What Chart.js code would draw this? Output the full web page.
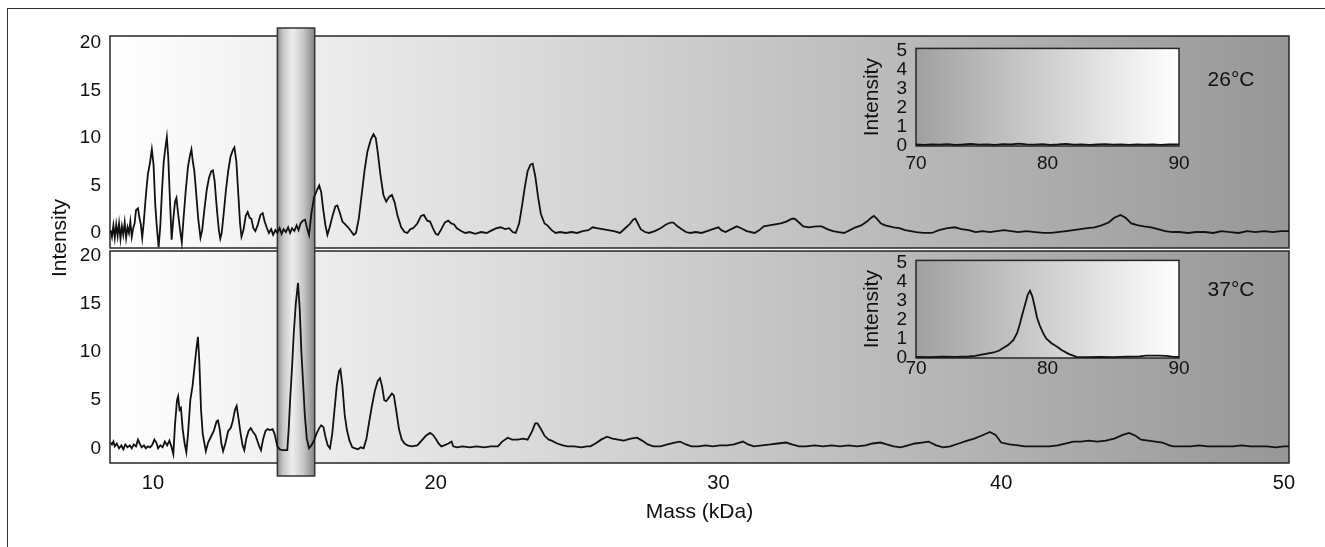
<!DOCTYPE html>
<html>
<head>
<meta charset="utf-8">
<script src="https://cdn.jsdelivr.net/npm/chart.js@4.4.1/dist/chart.umd.min.js"></script>
<style>
  html, body { margin: 0; padding: 0; background: #fff; }
  #wrap { position: relative; width: 1325px; height: 547px; overflow: hidden; }
  #wrap canvas { position: absolute; }
</style>
</head>
<body>
<div id="wrap">
  <canvas id="mainChart" width="1325" height="547" style="left:0;top:0"></canvas>
  <canvas id="inset26" width="350" height="152" style="left:840px;top:28px"></canvas>
  <canvas id="inset37" width="350" height="152" style="left:840px;top:240px"></canvas>
</div>
<script>
// ---- data: [mass kDa, intensity] ----
const trace26 = [
  [8.50,0.3],[8.55,-0.4],[8.60,0.8],[8.65,-0.5],[8.70,0.9],[8.75,-0.3],[8.80,1.0],[8.85,-0.6],[8.90,0.7],[8.95,-0.2],
  [9.00,1.1],[9.05,-0.5],[9.10,0.6],[9.15,0.0],[9.20,1.2],[9.25,-0.4],[9.30,0.5],[9.35,1.0],[9.40,2.4],[9.47,2.6],
  [9.52,1.6],[9.57,0.9],[9.62,-0.5],[9.67,1.0],[9.75,4.0],[9.82,6.2],[9.90,7.5],[9.96,8.8],[10.02,7.2],[10.08,3.0],
  [10.14,0.5],[10.20,-1.5],[10.26,0.8],[10.32,4.5],[10.38,7.5],[10.44,9.0],[10.49,10.1],[10.54,8.0],[10.60,3.5],[10.66,-0.7],
  [10.72,1.5],[10.78,3.3],[10.83,3.7],[10.89,2.0],[10.96,0.3],[11.02,-1.0],[11.08,1.5],[11.16,4.5],[11.24,7.0],[11.31,8.2],
  [11.36,8.8],[11.41,7.5],[11.46,6.6],[11.52,4.5],[11.60,1.5],[11.68,-0.5],[11.74,0.3],[11.82,2.5],[11.90,4.5],[11.98,5.8],
  [12.06,6.5],[12.12,6.6],[12.18,5.5],[12.26,2.5],[12.33,0.3],[12.38,-0.6],[12.43,0.0],[12.50,2.0],[12.58,4.5],[12.66,6.5],
  [12.74,8.0],[12.82,8.7],[12.88,9.0],[12.95,7.5],[13.02,4.0],[13.08,1.0],[13.13,-0.4],[13.20,0.3],[13.28,1.8],[13.35,2.2],
  [13.42,1.6],[13.48,1.5],[13.55,0.5],[13.62,0.2],[13.70,0.8],[13.80,1.9],[13.88,2.1],[13.95,1.2],[14.02,0.6],[14.10,0.0],
  [14.18,0.4],[14.25,-0.2],[14.33,0.3],[14.40,0.0],[14.48,0.5],[14.55,-0.1],[14.62,0.4],[14.70,0.1],[14.78,0.6],[14.85,0.0],
  [14.92,0.5],[15.00,0.2],[15.08,0.8],[15.15,0.3],[15.22,1.0],[15.30,1.3],[15.38,1.4],[15.45,0.5],[15.52,-0.2],[15.60,2.0],
  [15.70,3.8],[15.80,4.5],[15.88,5.0],[15.95,4.3],[16.02,2.5],[16.10,0.8],[16.17,-0.2],[16.25,0.6],[16.35,1.8],[16.45,2.8],
  [16.52,2.9],[16.60,2.2],[16.70,1.2],[16.80,0.9],[16.90,0.6],[17.00,0.2],[17.10,-0.2],[17.18,0.0],[17.28,1.5],[17.38,4.0],
  [17.48,6.5],[17.58,8.5],[17.70,9.8],[17.80,10.4],[17.88,10.0],[17.95,8.5],[18.05,6.0],[18.15,4.0],[18.25,3.3],[18.35,3.8],
  [18.45,4.0],[18.55,3.2],[18.65,1.8],[18.78,0.6],[18.90,0.1],[19.00,0.0],[19.10,0.4],[19.20,0.5],[19.35,1.0],[19.48,1.8],
  [19.58,1.9],[19.70,1.3],[19.80,1.2],[19.90,0.5],[20.00,-0.1],[20.08,-0.2],[20.20,0.4],[20.32,1.1],[20.44,1.3],[20.55,1.0],
  [20.65,0.9],[20.75,0.5],[20.90,0.2],[21.05,0.0],[21.20,0.1],[21.40,-0.1],[21.60,0.1],[21.80,0.0],[22.00,0.3],[22.15,0.5],
  [22.30,0.6],[22.45,0.4],[22.60,0.5],[22.72,0.1],[22.83,0.0],[22.95,1.0],[23.05,2.8],[23.15,4.8],[23.25,6.5],[23.35,7.2],
  [23.43,7.3],[23.52,6.0],[23.62,3.8],[23.72,2.0],[23.85,1.0],[23.95,0.8],[24.10,0.3],[24.24,0.0],[24.40,0.1],[24.60,0.0],
  [24.80,0.1],[25.00,0.0],[25.20,0.2],[25.40,0.3],[25.55,0.6],[25.70,0.5],[25.90,0.4],[26.10,0.3],[26.30,0.2],[26.52,0.0],
  [26.70,0.5],[26.85,0.9],[26.98,1.4],[27.06,1.5],[27.15,1.0],[27.25,0.4],[27.40,0.1],[27.55,0.0],[27.75,0.2],[27.95,0.5],
  [28.15,0.9],[28.30,1.1],[28.41,1.1],[28.55,0.7],[28.70,0.4],[28.85,0.1],[29.00,0.0],[29.20,0.1],[29.40,0.0],[29.60,0.2],
  [29.80,0.4],[30.00,0.6],[30.10,0.3],[30.25,0.1],[30.45,0.4],[30.65,0.7],[30.80,0.5],[31.00,0.2],[31.28,0.0],[31.45,0.3],
  [31.60,0.7],[31.80,0.8],[32.00,0.9],[32.20,1.0],[32.40,1.2],[32.60,1.5],[32.70,1.5],[32.85,1.1],[33.00,0.7],[33.20,0.6],
  [33.45,0.7],[33.65,0.7],[33.85,0.4],[34.05,0.2],[34.25,0.1],[34.44,0.0],[34.65,0.3],[34.85,0.6],[35.05,0.8],[35.25,1.2],
  [35.40,1.6],[35.50,1.8],[35.60,1.5],[35.75,1.0],[35.90,0.8],[36.05,0.7],[36.20,0.6],[36.40,0.5],[36.60,0.3],[36.80,0.2],
  [37.00,0.1],[37.25,0.0],[37.55,0.0],[37.80,0.3],[38.10,0.5],[38.36,0.6],[38.60,0.4],[38.85,0.3],[39.10,0.1],[39.35,0.2],
  [39.60,0.1],[39.85,0.2],[40.10,0.3],[40.35,0.2],[40.60,0.1],[40.90,0.2],[41.20,0.1],[41.50,0.0],[41.76,0.0],[42.00,0.1],
  [42.30,0.2],[42.55,0.3],[42.80,0.4],[43.05,0.5],[43.30,0.6],[43.55,0.8],[43.80,1.1],[44.00,1.6],[44.22,1.9],[44.40,1.6],
  [44.60,1.0],[44.85,0.8],[45.05,0.7],[45.30,0.6],[45.55,0.4],[45.80,0.2],[46.05,0.1],[46.30,0.1],[46.60,0.0],[46.90,0.1],
  [47.20,0.1],[47.50,0.0],[47.80,0.2],[48.10,0.1],[48.40,0.0],[48.70,0.2],[49.00,0.1],[49.30,0.2],[49.60,0.1],[49.90,0.2],
  [50.20,0.2]
];

const trace37 = [
  [8.50,0.6],[8.55,0.4],[8.60,0.7],[8.65,0.2],[8.72,0.5],[8.80,0.0],[8.88,0.3],[8.95,-0.1],[9.02,0.4],[9.10,0.1],
  [9.18,0.3],[9.25,0.0],[9.32,0.4],[9.40,0.2],[9.47,0.9],[9.53,0.5],[9.60,0.1],[9.68,0.3],[9.75,0.0],[9.82,0.2],
  [9.90,0.1],[9.98,0.4],[10.05,0.9],[10.12,0.6],[10.18,0.0],[10.26,0.3],[10.34,0.1],[10.42,0.7],[10.50,0.3],[10.58,0.8],
  [10.65,0.2],[10.72,-0.6],[10.78,2.5],[10.85,5.0],[10.89,5.4],[10.94,4.0],[10.99,4.2],[11.05,2.0],[11.12,0.5],[11.18,-0.4],
  [11.24,1.5],[11.32,5.0],[11.40,6.5],[11.47,8.5],[11.53,10.2],[11.59,11.6],[11.64,9.0],[11.70,4.0],[11.76,1.5],[11.82,0.5],
  [11.87,-0.3],[11.95,0.6],[12.05,1.2],[12.15,1.8],[12.25,2.8],[12.30,2.9],[12.36,2.0],[12.42,0.5],[12.48,-0.3],[12.56,0.5],
  [12.66,1.8],[12.75,2.1],[12.82,2.8],[12.90,4.0],[12.96,4.4],[13.03,3.0],[13.10,1.5],[13.17,0.3],[13.23,-0.2],[13.30,1.0],
  [13.38,1.8],[13.46,2.1],[13.54,1.7],[13.62,1.4],[13.70,0.7],[13.76,0.2],[13.82,-0.2],[13.90,1.0],[13.98,1.8],[14.05,2.0],
  [14.14,1.9],[14.23,2.0],[14.30,1.5],[14.40,0.2],[14.48,-0.1],[14.58,-0.2],[14.68,-0.2],[14.75,-0.2],[14.80,2.0],[14.86,5.5],
  [14.92,8.5],[14.98,12.0],[15.05,15.0],[15.13,17.2],[15.19,14.5],[15.25,10.0],[15.31,6.8],[15.37,3.5],[15.44,1.0],[15.52,0.0],
  [15.60,0.3],[15.68,0.7],[15.78,1.5],[15.88,2.1],[15.95,2.4],[16.03,2.2],[16.10,1.2],[16.18,0.3],[16.26,0.0],[16.34,1.5],
  [16.42,4.0],[16.50,6.5],[16.58,8.0],[16.63,8.2],[16.70,6.5],[16.78,3.5],[16.86,1.9],[16.95,0.8],[17.05,0.1],[17.15,0.0],
  [17.25,-0.1],[17.35,0.1],[17.45,0.0],[17.55,1.0],[17.65,2.8],[17.75,4.5],[17.85,6.0],[17.95,7.0],[18.03,7.3],[18.10,6.5],
  [18.18,5.0],[18.25,4.9],[18.35,5.3],[18.45,5.7],[18.52,5.5],[18.60,4.0],[18.70,2.0],[18.80,0.9],[18.90,0.5],[19.00,0.3],
  [19.15,0.2],[19.35,0.3],[19.50,0.8],[19.65,1.3],[19.80,1.6],[19.90,1.4],[20.00,1.0],[20.10,0.5],[20.20,0.2],[20.30,0.3],
  [20.45,0.5],[20.56,0.7],[20.62,0.2],[20.75,0.1],[20.95,0.2],[21.20,0.1],[21.45,0.2],[21.70,0.1],[21.95,0.2],[22.20,0.2],
  [22.35,0.7],[22.55,1.1],[22.70,0.9],[22.90,0.9],[23.10,1.0],[23.25,0.9],[23.40,1.7],[23.52,2.6],[23.60,2.6],[23.72,2.0],
  [23.85,1.3],[24.00,0.9],[24.10,0.8],[24.30,0.5],[24.50,0.3],[24.66,0.2],[24.90,0.2],[25.15,0.1],[25.35,0.2],[25.47,0.2],
  [25.65,0.5],[25.85,0.9],[26.06,1.2],[26.25,1.0],[26.45,0.9],[26.65,0.8],[26.90,1.0],[27.12,1.1],[27.30,0.8],[27.50,0.4],
  [27.70,0.2],[27.95,0.2],[28.20,0.4],[28.45,0.6],[28.64,0.7],[28.85,0.4],[29.05,0.2],[29.30,0.2],[29.55,0.3],[29.80,0.2],
  [30.05,0.3],[30.30,0.3],[30.55,0.4],[30.87,0.7],[31.05,0.4],[31.25,0.2],[31.55,0.3],[31.85,0.4],[32.10,0.5],[32.39,0.6],
  [32.60,0.4],[32.85,0.2],[33.10,0.2],[33.40,0.3],[33.70,0.2],[34.00,0.3],[34.30,0.2],[34.60,0.3],[34.90,0.2],[35.20,0.3],
  [35.45,0.5],[35.73,0.6],[35.95,0.4],[36.20,0.2],[36.45,0.1],[36.70,0.3],[36.95,0.5],[37.20,0.6],[37.43,0.7],[37.70,0.3],
  [37.95,0.1],[38.20,0.2],[38.50,0.5],[38.80,0.8],[39.05,1.0],[39.30,1.3],[39.60,1.7],[39.80,1.4],[40.00,0.6],[40.30,0.4],
  [40.60,0.3],[40.83,0.2],[41.10,0.2],[41.40,0.2],[41.70,0.2],[42.00,0.3],[42.30,0.5],[42.55,0.7],[42.82,0.7],[43.10,0.8],
  [43.40,0.7],[43.70,0.8],[44.00,1.0],[44.30,1.4],[44.52,1.6],[44.75,1.3],[44.95,0.9],[45.20,0.8],[45.45,0.7],[45.70,0.6],
  [45.95,0.3],[46.10,0.2],[46.40,0.2],[46.70,0.2],[47.00,0.3],[47.30,0.2],[47.60,0.2],[47.90,0.2],[48.20,0.2],[48.50,0.3],
  [48.80,0.2],[49.10,0.2],[49.40,0.2],[49.70,0.1],[50.00,0.2],[50.20,0.2]
];

const insetTrace26 = [
  [70.0,0.05],[70.6,0.03],[71.2,0.06],[71.8,0.04],[72.4,0.07],[73.0,0.03],[73.6,0.05],[74.2,0.08],[74.8,0.04],[75.4,0.06],
  [76.0,0.03],[76.6,0.07],[77.2,0.05],[77.8,0.09],[78.4,0.06],[79.0,0.04],[79.6,0.07],[80.2,0.03],[80.8,0.05],[81.4,0.08],
  [82.0,0.04],[82.6,0.06],[83.2,0.03],[83.8,0.05],[84.4,0.07],[85.0,0.04],[85.6,0.06],[86.2,0.03],[86.8,0.05],[87.4,0.04],
  [88.0,0.06],[88.6,0.03],[89.2,0.05],[90.0,0.06]
];

const insetTrace37 = [
  [70.0,0.03],[71.0,0.02],[72.0,0.04],[73.0,0.03],[74.0,0.05],[74.5,0.08],[74.9,0.14],[75.4,0.20],[75.9,0.26],[76.3,0.35],
  [76.6,0.48],[77.0,0.65],[77.4,0.91],[77.7,1.30],[77.9,1.77],[78.1,2.30],[78.3,2.80],[78.5,3.30],[78.67,3.50],[78.85,3.20],
  [79.05,2.60],[79.2,2.10],[79.4,1.70],[79.65,1.30],[79.9,1.00],[80.3,0.75],[80.7,0.57],[81.1,0.38],[81.6,0.19],[82.2,0.03],
  [83.0,0.02],[84.0,0.03],[85.0,0.02],[86.0,0.04],[87.0,0.06],[87.5,0.09],[88.5,0.10],[89.0,0.08],[89.5,0.04],[90.0,0.03]
];

const xTicks = [10, 20, 30, 40, 50];
const yTicks = [0, 5, 10, 15, 20];
const insetXTicks = [70, 80, 90];
const insetYTicks = [0, 1, 2, 3, 4, 5];
const bandRange = [14.40, 15.72];
const temps = ['26°C', '37°C'];

const FONT = "'Liberation Sans', Arial, Helvetica, sans-serif";
const INK = '#111';

function toPoints(arr) {
  return arr.map(p => ({ x: p[0], y: p[1] }));
}

const backdrop = {
  id: 'backdrop',
  beforeDatasetsDraw(chart) {
    const { ctx, chartArea: a, scales } = chart;
    ctx.save();

    // outer frame
    ctx.strokeStyle = '#333';
    ctx.lineWidth = 1;
    ctx.strokeRect(7.5, 8.5, 1400, 600);

    // panel backgrounds
    const g = ctx.createLinearGradient(a.left, 0, a.right, 0);
    g.addColorStop(0, '#ffffff');
    g.addColorStop(1, '#979797');
    const panels = [
      [scales.yTop.top, scales.yTop.bottom - 1.5],
      [scales.yBot.top + 1.5, scales.yBot.bottom]
    ];
    panels.forEach(([t, b]) => {
      ctx.fillStyle = g;
      ctx.fillRect(a.left, t, a.right - a.left, b - t);
      ctx.lineWidth = 1.5;
      ctx.strokeStyle = '#262626';
      ctx.strokeRect(a.left, t, a.right - a.left, b - t);
    });

    // highlighted mass window
    const x0 = scales.x.getPixelForValue(bandRange[0]);
    const x1 = scales.x.getPixelForValue(bandRange[1]);
    const bt = a.top - 8, bb = a.bottom + 13;
    const bg = ctx.createLinearGradient(x0, 0, x1, 0);
    bg.addColorStop(0, '#8a8a8a');
    bg.addColorStop(0.15, '#c6c6c6');
    bg.addColorStop(0.4, '#eeeeee');
    bg.addColorStop(0.7, '#c6c6c6');
    bg.addColorStop(1, '#838383');
    ctx.fillStyle = bg;
    ctx.fillRect(x0, bt, x1 - x0, bb - bt);
    ctx.lineWidth = 1.5;
    ctx.strokeStyle = '#333';
    ctx.strokeRect(x0, bt, x1 - x0, bb - bt);

    // shared y title
    ctx.fillStyle = INK;
    ctx.font = '21px ' + FONT;
    ctx.textAlign = 'center';
    ctx.textBaseline = 'middle';
    ctx.translate(60, a.top + 202);
    ctx.rotate(-Math.PI / 2);
    ctx.fillText('Intensity', 0, 0);
    ctx.restore();
  },
  afterDatasetsDraw(chart) {
    const { ctx, chartArea: a, scales } = chart;
    ctx.save();
    ctx.fillStyle = INK;
    ctx.font = '21px ' + FONT;
    ctx.textAlign = 'center';
    ctx.textBaseline = 'middle';
    ctx.fillText(temps[0], a.right - 58, scales.yTop.top + 44);
    ctx.fillText(temps[1], a.right - 58, scales.yBot.top + 41);
    ctx.restore();
  }
};

function yScale(weight, min, max) {
  return {
    type: 'linear',
    position: 'left',
    stack: 'panels',
    stackWeight: 1,
    weight: weight,
    min: min,
    max: max,
    grid: { display: false, drawTicks: false },
    border: { display: false },
    afterBuildTicks: s => { s.ticks = yTicks.map(v => ({ value: v })); },
    afterFit: s => { s.width = 110; },
    ticks: { color: INK, padding: 9, autoSkip: false, font: { family: FONT, size: 19 } }
  };
}

new Chart(document.getElementById('mainChart'), {
  type: 'line',
  data: {
    datasets: [
      { label: '26°C', data: toPoints(trace26), yAxisID: 'yTop', borderColor: INK, borderWidth: 1.8, pointRadius: 0, tension: 0 },
      { label: '37°C', data: toPoints(trace37), yAxisID: 'yBot', borderColor: INK, borderWidth: 1.8, pointRadius: 0, tension: 0 }
    ]
  },
  options: {
    responsive: false,
    animation: false,
    layout: { padding: { left: 0, right: 36, top: 36, bottom: 0 } },
    plugins: { legend: { display: false }, tooltip: { enabled: false } },
    scales: {
      x: {
        type: 'linear',
        min: 8.48,
        max: 50.18,
        grid: { display: false, drawTicks: false },
        border: { display: false },
        afterBuildTicks: s => { s.ticks = xTicks.map(v => ({ value: v })); },
        afterFit: s => { s.height = 84; },
        ticks: { color: INK, padding: 8, font: { family: FONT, size: 20 } },
        title: { display: true, text: 'Mass (kDa)', color: INK, padding: { top: 0, bottom: 22 }, font: { family: FONT, size: 21 } }
      },
      yTop: yScale(2, -1.74, 20.74),
      yBot: yScale(1, -1.53, 20.68)
    }
  },
  plugins: [backdrop]
});

const insetFrame = {
  id: 'insetFrame',
  beforeDatasetsDraw(chart) {
    const { ctx, chartArea: a } = chart;
    ctx.save();
    const g = ctx.createLinearGradient(a.left, 0, a.right, 0);
    g.addColorStop(0, '#a0a0a0');
    g.addColorStop(1, '#ffffff');
    ctx.fillStyle = g;
    ctx.fillRect(a.left, a.top, a.right - a.left, a.bottom - a.top);
    ctx.lineWidth = 1.5;
    ctx.strokeStyle = '#262626';
    ctx.strokeRect(a.left, a.top, a.right - a.left, a.bottom - a.top);
    ctx.restore();
  }
};

function makeInset(id, trace, labelLineHeight) {
  new Chart(document.getElementById(id), {
    type: 'line',
    data: { datasets: [{ data: toPoints(trace), borderColor: INK, borderWidth: 1.8, pointRadius: 0, tension: 0 }] },
    options: {
      responsive: false,
      animation: false,
      layout: { padding: { left: 0, right: 11, top: 0, bottom: 0 } },
      plugins: { legend: { display: false }, tooltip: { enabled: false } },
      scales: {
        x: {
          type: 'linear', min: 70, max: 90,
          grid: { display: false, drawTicks: false },
          border: { display: false },
          afterBuildTicks: s => { s.ticks = insetXTicks.map(v => ({ value: v })); },
          afterFit: s => { s.height = 34; },
          ticks: { color: INK, padding: 0, font: { family: FONT, size: 19, lineHeight: labelLineHeight } }
        },
        y: {
          type: 'linear', min: -0.03, max: 5.1,
          grid: { display: false, drawTicks: false },
          border: { display: false },
          afterBuildTicks: s => { s.ticks = insetYTicks.map(v => ({ value: v })); },
          afterFit: s => { s.width = 76; },
          ticks: { color: INK, padding: 9, autoSkip: false, font: { family: FONT, size: 19 } },
          title: { display: true, text: 'Intensity', color: INK, padding: { top: 20, bottom: 0 }, font: { family: FONT, size: 21 } }
        }
      }
    },
    plugins: [insetFrame]
  });
}

makeInset('inset26', insetTrace26, 1.9);
makeInset('inset37', insetTrace37, 1.1);
</script>
</body>
</html>
